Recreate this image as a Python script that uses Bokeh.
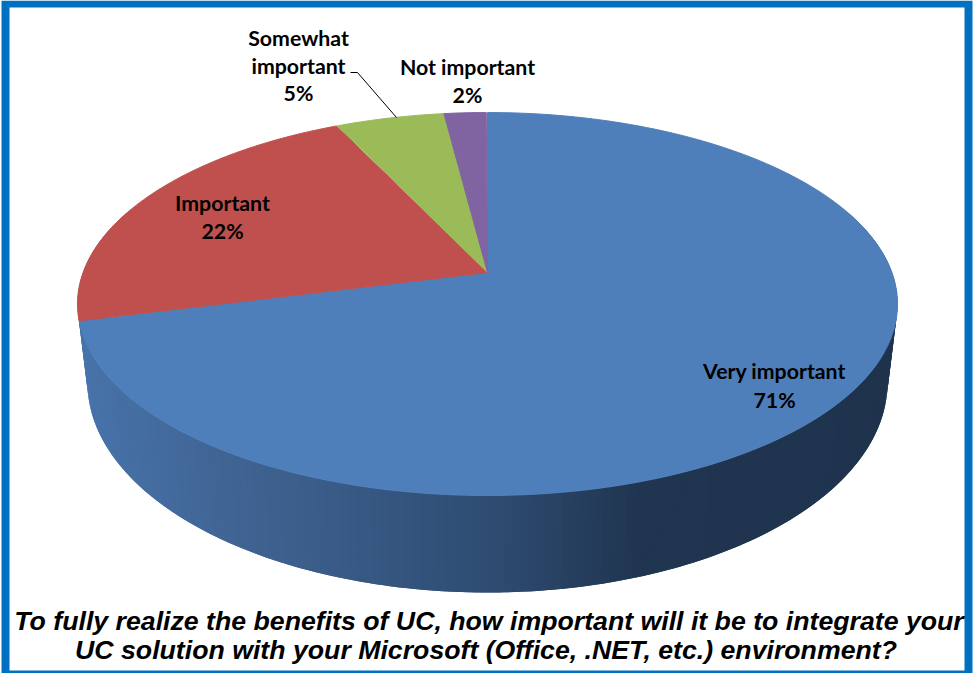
import numpy as np
from bokeh.core.properties import value
from bokeh.embed import file_html
from bokeh.models import Range1d
from bokeh.plotting import figure
from bokeh.resources import INLINE

# Survey shares, clockwise from twelve o'clock
categories = ["Very important", "Important", "Somewhat important", "Not important"]
shares = [71, 22, 5, 2]
slice_colors = ["#4f7fba", "#c0504d", "#9bbb59", "#8064a2"]
question = [
    "To fully realize the benefits of UC, how important will it be to integrate your",
    "UC solution with your Microsoft (Office, .NET, etc.) environment?",
]

# Perspective tilt of the disc and the placement of its two rims
TILT = 0.1645
CX = 487.0
TOP_RIM = (404.4, 186.3, 272.0)
BOTTOM_RIM = (394.6, 204.3, 347.5)

# Shading of the wall, from the lit left side to the dark right side
wall_x = [85, 235, 487, 640, 900]
wall_rgb = np.array([[71, 115, 170], [64, 100, 147], [47, 77, 115], [32, 53, 80], [31, 51, 77]])


def rim(deg, rim_shape):
    rx, ry, cy = rim_shape
    t = np.radians(np.asarray(deg, dtype=float))
    u, v = np.sin(t), np.cos(t)
    w = 1 + TILT * v
    return CX + rx * u / w, cy - ry * v / w


def wall_color(x):
    r, g, b = (int(round(np.interp(x, wall_x, wall_rgb[:, i]))) for i in range(3))
    return f"#{r:02x}{g:02x}{b:02x}"


p = figure(
    width=974, height=673, x_range=Range1d(0, 974), y_range=Range1d(673, 0),
    output_backend="svg", toolbar_location=None, min_border=0,
    x_axis_type=None, y_axis_type=None,
    background_fill_color="white", border_fill_color="white", outline_line_color=None,
)
p.xgrid.visible = False
p.ygrid.visible = False

# Frame
p.quad(left=[1], right=[972], top=[0], bottom=[673], fill_color="#0070c0", line_color=None)
p.quad(left=[9], right=[964], top=[7], bottom=[670], fill_color="white", line_color=None)

# Cylinder wall as thin strips, each overlapping the next so no seams show
step = 1.0
for a in np.arange(70, 290, step):
    arc = np.array([a, a + step / 2, a + 2 * step])
    tx, ty = rim(arc, TOP_RIM)
    bx, by = rim(arc, BOTTOM_RIM)
    col = wall_color((tx[0] + tx[1] + bx[0] + bx[1]) / 4)
    p.patch(np.r_[tx, bx[::-1]], np.r_[ty, by[::-1]], fill_color=col, line_color=None)

# Top face, one wedge per category
edges = np.cumsum([0] + shares) / sum(shares) * 360
for start, end, col in zip(edges[:-1], edges[1:], slice_colors):
    arc = np.arange(start, end + 0.25, 0.5)
    ex, ey = rim(arc, TOP_RIM)
    # the projection sends the disc centre to (CX, cy)
    ax, ay = CX, TOP_RIM[2]
    p.patch(np.r_[ax, ex], np.r_[ay, ey], fill_color=col, line_color=col, line_width=1)

# Leader line for the "Somewhat important" label
p.line([350, 357, 396], [72, 72, 117], line_color="black", line_width=1)

# Data labels
label_rows = [
    (774, 370, categories[0]), (774, 399, f"{shares[0]}%"),
    (222, 202, categories[1]), (222, 230, f"{shares[1]}%"),
    (298, 37, "Somewhat"), (298, 65, "important"), (298, 92, f"{shares[2]}%"),
    (467, 66, categories[3]), (467, 94, f"{shares[3]}%"),
]
p.text(
    x=[r[0] for r in label_rows], y=[r[1] for r in label_rows], text=[r[2] for r in label_rows],
    text_font=value("Lato"), text_font_style="bold", text_font_size="21.3px",
    text_align="center", text_baseline="middle", text_color="black",
)

# Question caption
p.text(
    x=[488.5, 485.5], y=[620, 649], text=question,
    text_font=value("Liberation Sans"), text_font_style="bold italic", text_font_size="26.7px",
    text_align="center", text_baseline="middle", text_color="black",
)

open("out.html", "w").write(file_html(p, INLINE))
